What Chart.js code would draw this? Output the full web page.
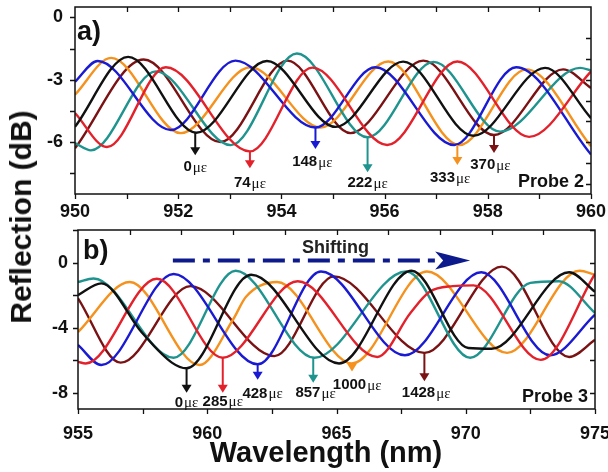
<!DOCTYPE html>
<html>
<head>
<meta charset="utf-8">
<script src="https://cdn.jsdelivr.net/npm/chart.js@4.4.1/dist/chart.umd.min.js"></script>
<style>
body { margin: 0; background: #fff; width: 608px; height: 472px; position: relative; overflow: hidden; font-family: "Liberation Sans", Arial, sans-serif; }
canvas { position: absolute; left: 0; }
#chartA { top: 0; }
#chartB { top: 222px; }
.title { position: absolute; font-weight: bold; color: #111; white-space: nowrap; }
#ytitle { font-size: 30px; left: 21px; top: 217px; transform: translate(-50%, -50%) rotate(-90deg); }
#xtitle { font-size: 29px; left: 326px; top: 452px; transform: translate(-50%, -50%); }
</style>
</head>
<body>
<canvas id="chartA" width="608" height="222"></canvas>
<canvas id="chartB" width="608" height="250"></canvas>
<div class="title" id="ytitle">Reflection (dB)</div>
<div class="title" id="xtitle">Wavelength (nm)</div>
<script>
/* Panel a) Probe 2 : [wavelength nm, reflection dB] read at edges, peaks and dips */
let strainsA = ['0', '74', '148', '222', '333', '370']
let blackA  = [[950,-5.27],[951.03,-1.9],[952.35,-5.55],[953.72,-2.1],[955.05,-5.27],[956.36,-2.13],[957.72,-5.7],[959.11,-2.43],[960,-4.85]]
let redA    = [[950,-4.6],[950.62,-6.24],[951.76,-2.4],[953.39,-6.45],[954.6,-2.42],[956.05,-6.14],[957.41,-2.12],[958.8,-5.75],[960,-2.6]]
let blueA   = [[950,-3.1],[950.44,-2.1],[951.86,-5.42],[953.11,-2.08],[954.66,-5.3],[955.82,-2.4],[957.35,-6.14],[958.55,-2.4],[960,-6.6]]
let tealA   = [[950,-6.05],[950.31,-6.4],[951.57,-2.6],[953.02,-6.15],[954.3,-1.74],[955.67,-5.77],[956.95,-2.14],[958.24,-5.5],[959.79,-2.43],[960,-2.55]]
let orangeA = [[950,-3.72],[950.7,-1.95],[952.05,-5.57],[953.4,-2.4],[954.76,-5.3],[956.07,-2.12],[957.45,-6.14],[958.75,-2.5],[960,-6.2]]
let maroonA = [[950,-6.3],[951.33,-2.03],[952.82,-6.0],[954.12,-2.08],[955.34,-5.57],[956.75,-2.08],[958.12,-5.66],[959.46,-2.5],[960,-3.4]]

/* Panel b) Probe 3 */
let strainsB = ['0', '285', '428', '857', '1000', '1428']
let blackB  = [[955,-2.0],[955.9,-1.28],[957.47,-4.3],[958.63,-6.15],[959.2,-6.5],[961.7,-0.75],[965.1,-6.2],[967.9,-0.5],[970.1,-5.25],[971.0,-5.3],[974.0,-0.6],[975,-1.8]]
let redB    = [[955,-6.1],[955.3,-6.2],[958.05,-1.0],[960.6,-5.85],[963.5,-1.15],[966.58,-5.8],[967.86,-3.1],[968.6,-1.8],[969.5,-1.45],[970.3,-1.4],[972.9,-5.98],[975,-0.7]]
let blueB   = [[955,-5.06],[955.9,-6.3],[958.7,-0.7],[961.95,-6.25],[964.4,-0.55],[967.65,-5.7],[970.6,-0.6],[973.26,-5.7],[975,-3.2]]
let tealB   = [[955,-1.2],[955.6,-0.98],[958.7,-5.85],[961.1,-0.5],[964.15,-5.85],[967.7,-0.55],[970.17,-5.85],[972.5,-1.25],[973.6,-1.15],[975,-3.1]]
let orangeB = [[955,-4.27],[957.0,-1.2],[959.7,-6.3],[961.0,-3.5],[961.5,-2.1],[962.7,-1.2],[965.6,-6.2],[968.5,-0.55],[971.6,-5.55],[974.4,-0.5],[975,-0.75]]
let maroonB = [[955,-2.2],[956.65,-6.15],[959.35,-1.45],[962.6,-5.75],[964.9,-0.85],[968.4,-5.55],[971.4,-0.25],[974.0,-5.8],[975,-4.75]]

/* tick labels */
let xTicksA = [950, 952, 954, 956, 958, 960]
let yTicksA = [0, -3, -6]
let xTicksB = [955, 960, 965, 970, 975]
let yTicksB = [0, -4, -8]

/* strain arrows: x, dip level, arrow tip, label x, label y (data units) */
let arrowsA = [
    [952.33, -5.55, -6.63, 952.33, -7.2],
    [953.39, -6.45, -7.26, 953.39, -7.98],
    [954.66, -5.3, -6.34, 954.6, -6.97],
    [955.67, -5.77, -7.45, 955.67, -7.98],
    [957.41, -6.14, -7.11, 957.27, -7.74],
    [958.12, -5.66, -6.53, 958.05, -7.1]
]
let arrowsB = [
    [959.2, -6.5, -8.0, 959.2, -8.6],
    [960.6, -5.85, -8.0, 960.6, -8.54],
    [961.95, -6.25, -7.2, 962.14, -8.05],
    [964.1, -5.85, -7.38, 964.19, -8.0],
    [965.6, -6.2, -6.7, 965.8, -7.5],
    [968.4, -5.55, -7.3, 968.47, -8.0]
]

let colors = ['#111111', '#e3212b', '#1a1ad2', '#1f948f', '#f5911d', '#7a1214']
let font = '"Liberation Sans", Arial, sans-serif'

function toPoints(arr) {
    return arr.map(p => ({ x: p[0], y: p[1] }))
}

function strainLabel(ctx, txt, cx, cy) {
    ctx.font = 'bold 15px ' + font
    let w1 = ctx.measureText(txt).width
    ctx.font = '15px "Liberation Serif", serif'
    let w2 = ctx.measureText('με').width
    let x = cx - (w1 + w2 + 1) / 2
    ctx.textAlign = 'left'
    ctx.textBaseline = 'middle'
    ctx.fillStyle = '#111'
    ctx.font = 'bold 15px ' + font
    ctx.fillText(txt, x, cy)
    ctx.font = '15px "Liberation Serif", serif'
    ctx.fillText('με', x + w1 + 1, cy + 1)
}

// frame with outside ticks left/bottom and inside ticks top/right
let framePlugin = {
    id: 'frame',
    afterDraw(chart, args, o) {
        let ctx = chart.ctx, a = chart.chartArea
        let xs = chart.scales.x, ys = chart.scales.y
        ctx.save()
        ctx.strokeStyle = '#111'
        ctx.lineWidth = 1.5
        ctx.strokeRect(a.left, a.top, a.right - a.left, a.bottom - a.top)
        ctx.lineWidth = 1.3
        ctx.beginPath()
        for (let v = xs.min; v <= xs.max + 1e-6; v += o.xStep) {
            let px = Math.round(xs.getPixelForValue(v)) + 0.5
            ctx.moveTo(px, a.bottom); ctx.lineTo(px, a.bottom + 5)
        }
        for (let v = o.topFrom; v < xs.max - 1e-6; v += o.topStep) {
            let px = Math.round(xs.getPixelForValue(v)) + 0.5
            ctx.moveTo(px, a.top); ctx.lineTo(px, a.top + 5)
        }
        for (let v = o.yFrom; v >= ys.min - 1e-6; v -= o.yStep) {
            let py = Math.round(ys.getPixelForValue(v)) + 0.5
            ctx.moveTo(a.left - 5, py); ctx.lineTo(a.left, py)
        }
        for (let v = o.rightFrom; v > ys.min + 1e-6; v -= o.rightStep) {
            let py = Math.round(ys.getPixelForValue(v)) + 0.5
            ctx.moveTo(a.right - 5, py); ctx.lineTo(a.right, py)
        }
        ctx.stroke()
        ctx.restore()
    }
}

let notesPlugin = {
    id: 'notes',
    afterDatasetsDraw(chart, args, o) {
        let ctx = chart.ctx, a = chart.chartArea
        let xs = chart.scales.x, ys = chart.scales.y
        ctx.save()
        o.arrows.forEach((m, i) => {
            let px = xs.getPixelForValue(m[0])
            let y0 = ys.getPixelForValue(m[1])
            let y1 = ys.getPixelForValue(m[2])
            ctx.strokeStyle = colors[i]
            ctx.fillStyle = colors[i]
            ctx.lineWidth = 2
            ctx.beginPath()
            ctx.moveTo(px, y0); ctx.lineTo(px, y1 - 6)
            ctx.stroke()
            ctx.beginPath()
            ctx.moveTo(px - 5, y1 - 8); ctx.lineTo(px + 5, y1 - 8); ctx.lineTo(px, y1)
            ctx.closePath()
            ctx.fill()
            strainLabel(ctx, o.strains[i], xs.getPixelForValue(m[3]), ys.getPixelForValue(m[4]))
        })
        ctx.fillStyle = '#111'
        ctx.textBaseline = 'middle'
        ctx.font = 'bold 27px ' + font
        ctx.textAlign = 'left'
        ctx.fillText(o.panel, a.left + o.panelDx, a.top + o.panelDy)
        ctx.font = 'bold 18px ' + font
        ctx.textAlign = 'right'
        ctx.fillText(o.probe, a.right - 7, a.bottom - 12)

        if (o.shift) {
            let s = o.shift
            let x0 = xs.getPixelForValue(s.from), x1 = xs.getPixelForValue(s.to)
            let py = ys.getPixelForValue(s.y)
            ctx.strokeStyle = '#0c1a8c'
            ctx.fillStyle = '#0c1a8c'
            ctx.lineWidth = 4
            ctx.setLineDash([22, 8, 7, 8])
            ctx.beginPath()
            ctx.moveTo(x0, py); ctx.lineTo(x1 - 32, py)
            ctx.stroke()
            ctx.setLineDash([])
            ctx.beginPath()
            ctx.moveTo(x1, py); ctx.lineTo(x1 - 35, py - 9); ctx.lineTo(x1 - 27, py)
            ctx.lineTo(x1 - 35, py + 9); ctx.closePath()
            ctx.fill()
            ctx.fillStyle = '#222'
            ctx.font = 'bold 18px ' + font
            ctx.textAlign = 'center'
            ctx.fillText('Shifting', xs.getPixelForValue(s.textX), ys.getPixelForValue(s.textY))
        }
        ctx.restore()
    }
}

function noPad(s) {
    s.paddingLeft = 0
    s.paddingRight = 0
    s.paddingTop = 0
    s.paddingBottom = 0
}

function makeChart(id, series, xr, yr, xTicks, yTicks, lay, frame, notes) {
    let ctx = document.querySelector(id).getContext('2d')
    return new Chart(ctx, {
        type: 'line',
        data: {
            datasets: series.map((s, i) => ({
                data: toPoints(s),
                borderColor: colors[i],
                borderWidth: 2.4,
                pointRadius: 0,
                fill: false,
                cubicInterpolationMode: 'monotone'
            }))
        },
        options: {
            responsive: false,
            animation: false,
            layout: { padding: lay.padding },
            plugins: { legend: { display: false }, tooltip: { enabled: false }, frame: frame, notes: notes },
            scales: {
                x: {
                    type: 'linear', min: xr[0], max: xr[1],
                    grid: { display: false, drawTicks: false },
                    border: { display: false },
                    afterBuildTicks: s => { s.ticks = xTicks.map(v => ({ value: v })) },
                    afterFit: s => { s.height = lay.xHeight; noPad(s) },
                    ticks: { color: '#111', padding: lay.xPad, maxRotation: 0, autoSkip: false, font: { family: font, size: 18, weight: 'bold' } }
                },
                y: {
                    type: 'linear', min: yr[0], max: yr[1],
                    grid: { display: false, drawTicks: false },
                    border: { display: false },
                    afterBuildTicks: s => { s.ticks = yTicks.map(v => ({ value: v })) },
                    afterFit: s => { s.width = lay.yWidth; noPad(s) },
                    ticks: { color: '#111', padding: lay.yPad, font: { family: font, size: 18, weight: 'bold' } }
                }
            }
        },
        plugins: [framePlugin, notesPlugin]
    })
}

makeChart('#chartA', [blackA, redA, blueA, tealA, orangeA, maroonA], [950, 960], [-8.5, 0.5], xTicksA, yTicksA,
    { padding: { top: 7, right: 17, left: 0, bottom: 0 }, xHeight: 28, yWidth: 75, xPad: 7, yPad: 12 },
    { xStep: 1, topFrom: 951, topStep: 1, yFrom: 0, yStep: 1.5, rightFrom: -1, rightStep: 1 },
    { arrows: arrowsA, strains: strainsA, panel: 'a)', panelDx: 2, panelDy: 26, probe: 'Probe 2' })

makeChart('#chartB', [blackB, redB, blueB, tealB, orangeB, maroonB], [955, 975], [-9, 2], xTicksB, yTicksB,
    { padding: { top: 8, right: 13, left: 0, bottom: 0 }, xHeight: 63, yWidth: 78, xPad: 14, yPad: 10 },
    { xStep: 2.5, topFrom: 957, topStep: 2, yFrom: 2, yStep: 2, rightFrom: 2, rightStep: 2 },
    { arrows: arrowsB, strains: strainsB, panel: 'b)', panelDx: 5, panelDy: 22, probe: 'Probe 3',
      shift: { from: 958.67, to: 970.17, y: 0.12, textX: 964.96, textY: 0.91 } })
</script>
</body>
</html>
